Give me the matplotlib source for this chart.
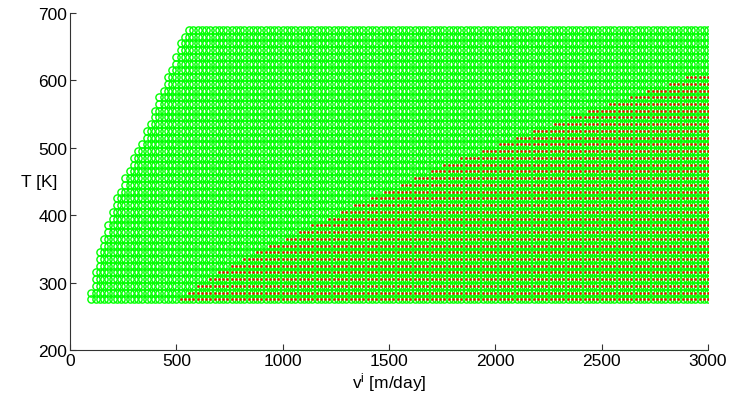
import numpy as np
import matplotlib
matplotlib.use("Agg")
from matplotlib import pyplot as plt

plt.rcParams['font.family'] = ['Liberation Sans', 'DejaVu Sans']

# grid of velocities and temperatures
v_grid = np.arange(100, 3001, 20)
T_rows = [275, 285, 295, 305, 315, 325, 335, 345, 355, 365, 375, 385, 395, 405,
          415, 425, 435, 445, 455, 465, 475, 485, 495, 505, 515, 525, 535, 545,
          555, 565, 575, 585, 595, 605, 615, 625, 635, 645, 655, 665, 675]

# smallest velocity computed for each temperature row (green circles)
v_min = [100, 100, 120, 120, 120, 140, 140, 140, 160, 160, 180, 180, 200, 200,
         220, 220, 240, 260, 260, 280, 300, 300, 320, 340, 360, 360, 380, 400,
         400, 420, 420, 440, 460, 460, 480, 500, 500, 520, 520, 540, 560]

# velocity where the red points start for each row (None = no red points)
v_red = [520, 560, 600, 660, 700, 760, 820, 880, 940, 1020, 1080, 1140, 1220, 1280,
         1340, 1420, 1480, 1560, 1620, 1700, 1760, 1840, 1940, 2020, 2100, 2180, 2280,
         2360, 2440, 2540, 2640, 2720, 2820, 2900, None, None, None, None, None, None, None]

gx, gy, rx, ry = [], [], [], []
for T, vm, vr in zip(T_rows, v_min, v_red):
    for v in v_grid:
        if v >= vm:
            gx.append(v)
            gy.append(T)
        if vr is not None and v >= vr:
            rx.append(v)
            ry.append(T)

fig = plt.figure(figsize=(7.3, 4.06), dpi=100)
ax = fig.add_axes([0.0959, 0.1355, 0.874, 0.830])

ax.plot(gx, gy, 'o', mfc='none', mec=(0, 1, 0), ms=5.2, mew=1.0, linestyle='none')
ax.plot(rx, ry, '.', color=(1, 0, 0), ms=1.6, linestyle='none')

ax.set_xlim(0, 3000)
ax.set_ylim(200, 700)
ax.set_xticks([0, 500, 1000, 1500, 2000, 2500, 3000])
ax.set_yticks([200, 300, 400, 500, 600, 700])

for s in ['top', 'right']:
    ax.spines[s].set_visible(False)
for s in ['left', 'bottom']:
    ax.spines[s].set_color('#333333')
    ax.spines[s].set_linewidth(0.8)
ax.tick_params(direction='in', length=4, width=0.8, color='#333333', labelsize=12.5, pad=2)

ax.set_xlabel(r'$\mathregular{v^i}$ [m/day]', fontsize=12.5, labelpad=2)
ax.set_ylabel('T [K]', fontsize=12.5, rotation=0, ha='right', va='center')
ax.yaxis.set_label_coords(-0.02, 0.5)

fig.savefig('out.png', dpi=100)
